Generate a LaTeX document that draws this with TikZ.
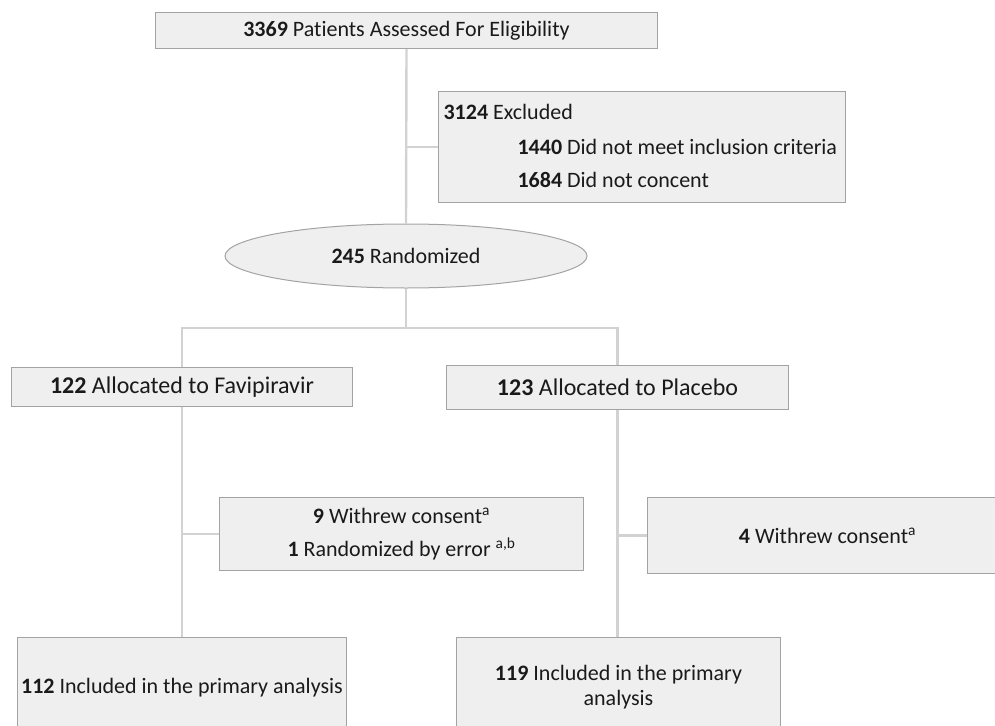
\documentclass[tikz,border=0pt]{standalone}
\usepackage{fontspec}
\setmainfont{Carlito}[Ligatures=NoCommon]
\usetikzlibrary{shapes.geometric}
\definecolor{boxfill}{HTML}{EFEFEF}
\definecolor{boxline}{HTML}{A3A3A3}
\definecolor{linkline}{HTML}{D2D2D2}
\definecolor{txt}{HTML}{1A1A1A}

\begin{document}
\begin{tikzpicture}[x=1pt,y=-1pt,font=\fontsize{22}{25}\selectfont,
  flowbox/.style={draw=boxline,fill=boxfill,line width=1pt,inner sep=2pt,
    text=txt,align=center,anchor=north west},
  link/.style={draw=linkline,line width=2.4pt}]
 \useasboundingbox (0,0) rectangle (995,725);
 \clip (0,0) rectangle (995,725);
 \node[flowbox,minimum width=502pt,minimum height=36pt] (assess) at (155,12)
   {\textbf{3369} Patients Assessed For Eligibility};
 \node[flowbox,minimum width=407pt,minimum height=111pt] (excl) at (438,91) {};
 \node[anchor=west,text=txt] (exclA) at (440,112) {\textbf{3124} Excluded};
 \node[anchor=west,text=txt] (exclB) at (514,147) {\textbf{1440} Did not meet inclusion criteria};
 \node[anchor=west,text=txt] (exclC) at (514,180) {\textbf{1684} Did not concent};
 \node[draw=boxline,fill=boxfill,line width=1pt,ellipse,minimum width=362pt,
   minimum height=64pt,text=txt] (rand) at (406,256) {\textbf{245} Randomized};
 \node[flowbox,minimum width=341pt,minimum height=39pt] (fav) at (11,367)
   {\fontsize{24}{28}\selectfont\textbf{122} Allocated to Favipiravir};
 \node[flowbox,minimum width=342pt,minimum height=44pt] (plac) at (446,365)
   {\fontsize{24}{28}\selectfont\textbf{123} Allocated to Placebo};
 \node[flowbox,minimum width=364pt,minimum height=73pt] (wdA) at (219,497)
   {\textbf{9} Withrew consent\textsuperscript{a}\\[8pt]
    \textbf{1} Randomized by error \textsuperscript{a,b}};
 \node[flowbox,minimum width=360pt,minimum height=76pt] (wdB) at (647,497)
   {\textbf{4} Withrew consent\textsuperscript{a}};
 \node[flowbox,minimum width=329pt,minimum height=100pt] (inclA) at (17,637)
   {\raisebox{-8pt}{\textbf{112} Included in the primary analysis}};
 \node[flowbox,minimum width=324pt,minimum height=100pt] (inclB) at (456,637)
   {\textbf{119} Included in the primary\\analysis};
 \coordinate (split) at (406,328);
 \draw[link] (assess.south) -- (rand.north);
 \draw[link] (excl.west) -- (assess.south |- excl.west);
 \draw[link] (rand.south) -- (split);
 \draw[link] (split) -| (fav.north);
 \draw[link] (split) -| (plac.north);
 \draw[link] (fav.south) -- (fav.south |- inclA.north);
 \draw[link] (wdA.west) -- (fav.south |- wdA.west);
 \draw[link] (plac.south) -- (plac.south |- inclB.north);
 \draw[link] (wdB.west) -- (plac.south |- wdB.west);
\end{tikzpicture}
\end{document}
